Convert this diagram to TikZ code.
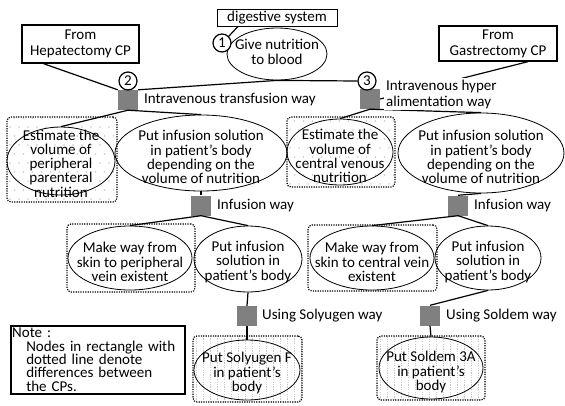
\documentclass[tikz,border=0pt]{standalone}
\usepackage{fontspec}
\setmainfont{Carlito}
\usetikzlibrary{shapes.geometric}
\definecolor{sqgray}{RGB}{128,128,128}
\definecolor{patgray}{RGB}{200,200,200}

\tikzset{
  base/.style={font=\fontsize{15}{14.3}\selectfont},
  conn/.style={line width=1.2pt},
  ell/.style={draw, ellipse, inner sep=0pt, line width=0.8pt},
  txt/.style={inner sep=0pt, align=center},
  sq/.style={fill=sqgray, minimum size=20pt, inner sep=0pt, draw=none},
  num/.style={circle, draw, line width=1.2pt, fill=white, minimum size=18pt, inner sep=0pt},
  srcbox/.style={draw, line width=1.3pt, align=center, inner sep=0pt, fill=white,
    font=\fontsize{15}{16}\selectfont},
  diffbox/.style={draw, rounded corners=4pt, line width=1.2pt,
    dash pattern=on 1.2pt off 1.2pt, inner sep=0pt},
  dotfill/.style={path picture={
    \foreach \i in {0,...,14}{\foreach \j in {0,...,10}{
      \pgfmathsetmacro\dotdx{\i*9+3+mod(\j,2)*4.5}
      \pgfmathsetmacro\dotdy{\j*9+3}
      \fill[patgray] ([shift={(\dotdx pt,\dotdy pt)}]path picture bounding box.south west) circle (0.9pt);}}}},
  stripefill/.style={path picture={
    \foreach \i in {0,...,18}{
      \pgfmathsetmacro\stripedx{\i*7+3}
      \draw[patgray, line width=0.8pt] ([xshift=\stripedx pt]path picture bounding box.south west)
        -- ([xshift=\stripedx pt]path picture bounding box.north west);}}},
  waylbl/.style={inner sep=0pt, anchor=west, align=left, font=\fontsize{15}{16}\selectfont},
}

\begin{document}
\begin{tikzpicture}[x=1pt, y=-1pt, base]
\useasboundingbox (0,0) rectangle (565,405);

% boxes marking the differences between the two pathways
\node[diffbox, dotfill, minimum width=110pt, minimum height=85pt] (dA) at (62,159.5) {};
\node[diffbox, dotfill, minimum width=108pt, minimum height=70pt] (dB) at (341,152) {};
\node[diffbox, minimum width=128pt, minimum height=68pt] (dC) at (131,258) {};
\node[diffbox, minimum width=129pt, minimum height=66pt] (dD) at (372.5,258) {};
\node[diffbox, stripefill, minimum width=109pt, minimum height=66pt] (dE) at (247.5,369) {};
\node[diffbox, stripefill, minimum width=108pt, minimum height=64pt] (dF) at (431,368) {};

% top of the tree
\node[draw, line width=0.9pt, minimum width=120pt, minimum height=17pt, inner sep=0pt] (dig) at (277,17.5) {digestive system};
\node[ell, minimum width=100pt, minimum height=52pt] (e1) at (277,54) {};
\node[txt] at (277,52) {Give nutrition\\to blood};

\node[srcbox, minimum width=117pt, minimum height=38pt] (hep) at (80.5,44) {From\\Hepatectomy CP};
\node[srcbox, minimum width=118pt, minimum height=35pt] (gas) at (498,43.5) {From\\Gastrectomy CP};

\node[sq] (s2) at (128,100) {};
\node[sq] (s3) at (370,99) {};

% second level
\node[ell, minimum width=108pt, minimum height=68pt] (est1) at (61,161) {};
\node[txt] at (61,163.5) {Estimate the\\volume of\\peripheral\\parenteral\\nutrition};
\node[ell, minimum width=172pt, minimum height=76pt] (put1) at (201,153) {};
\node[txt] at (201,157) {Put infusion solution\\in patient’s body\\depending on the\\volume of nutrition};
\node[ell, minimum width=106pt, minimum height=66pt] (est2) at (340,152) {};
\node[txt] at (340,156) {Estimate the\\volume of\\central venous\\nutrition};
\node[ell, minimum width=166pt, minimum height=80pt] (put2) at (481,153) {};
\node[txt] at (481,157) {Put infusion solution\\in patient’s body\\depending on the\\volume of nutrition};

% third level
\node[sq] (i1) at (201,205.5) {};
\node[sq] (i2) at (458,205.5) {};
\node[ell, minimum width=124pt, minimum height=64pt] (mk1) at (130,258) {};
\node[txt] at (130,262) {Make way from\\skin to peripheral\\vein existent};
\node[ell, minimum width=108pt, minimum height=66pt] (pi1) at (248,259) {};
\node[txt] at (248,262) {Put infusion\\solution in\\patient’s body};
\node[ell, minimum width=124pt, minimum height=64pt] (mk2) at (372,258) {};
\node[txt] at (372,262) {Make way from\\skin to central vein\\existent};
\node[ell, minimum width=106pt, minimum height=64pt] (pi2) at (488,258) {};
\node[txt] at (488,262) {Put infusion\\solution in\\patient’s body};

% fourth level
\node[sq] (u1) at (247,316) {};
\node[sq] (u2) at (430,315.5) {};
\node[ell, minimum width=106pt, minimum height=60pt] (sol1) at (247,370) {};
\node[txt] at (247,373) {Put Solyugen F\\in patient’s\\body};
\node[ell, minimum width=104pt, minimum height=62pt] (sol2) at (431,368) {};
\node[txt] at (431,372) {Put Soldem 3A\\in patient’s\\body};

% step numbers
\node[num] (c1) at (222,43) {1};
\node[num] (c2) at (128,81) {2};
\node[num] (c3) at (367,81) {3};

% connectors
\draw[conn] ([xshift=-39pt]dig.south) -- (c1.north east);
\draw[conn] ([xshift=-37pt]hep.south) -- (s2.north west);
\draw[conn] (e1.south) -- (s2.north east);
\draw[conn] (e1.south) -- (c3.west);
\draw[conn] ([xshift=30pt]gas.south) -- (s3.east);
\draw[conn] (s2.south) -- (est1.north);
\draw[conn] (s2.south) -- (put1.north);
\draw[conn] (s3.south) -- (est2.north);
\draw[conn] (s3.south) -- (put2.north);
\draw[conn] (put1.south) -- (i1.north);
\draw[conn] (put2.south) -- (i2.north);
\draw[conn] (i1.south) -- (mk1.north);
\draw[conn] (i1.south) -- (pi1.north);
\draw[conn] (i2.south) -- (mk2.north);
\draw[conn] (i2.south) -- (pi2.north);
\draw[conn] (pi1.south) -- (u1.north);
\draw[conn] (u1.south) -- (sol1.north);
\draw[conn] (pi2.south) -- (u2.north);
\draw[conn] (u2.south) -- (sol2.north);

% way labels
\node[waylbl] (l2) at (144,100) {Intravenous transfusion way};
\node[waylbl, fill=white, inner sep=2pt] (l3) at (384,94) {Intravenous hyper\\alimentation way};
\node[waylbl] (li1) at (217,206) {Infusion way};
\node[waylbl] (li2) at (474,206) {Infusion way};
\node[waylbl] (lu1) at (262,316) {Using Solyugen way};
\node[waylbl] (lu2) at (446,316) {Using Soldem way};

% legend
\node[draw, line width=1.5pt, anchor=north west, minimum width=174pt, minimum height=68pt,
  text width=171pt, inner sep=1.5pt, align=left, font=\fontsize{15}{13.4}\selectfont] (note) at (10,325)
  {Note :\\\hspace*{14pt}Nodes in rectangle with\\\hspace*{14pt}dotted line denote\\\hspace*{14pt}differences between\\\hspace*{14pt}the CPs.};
\end{tikzpicture}
\end{document}
